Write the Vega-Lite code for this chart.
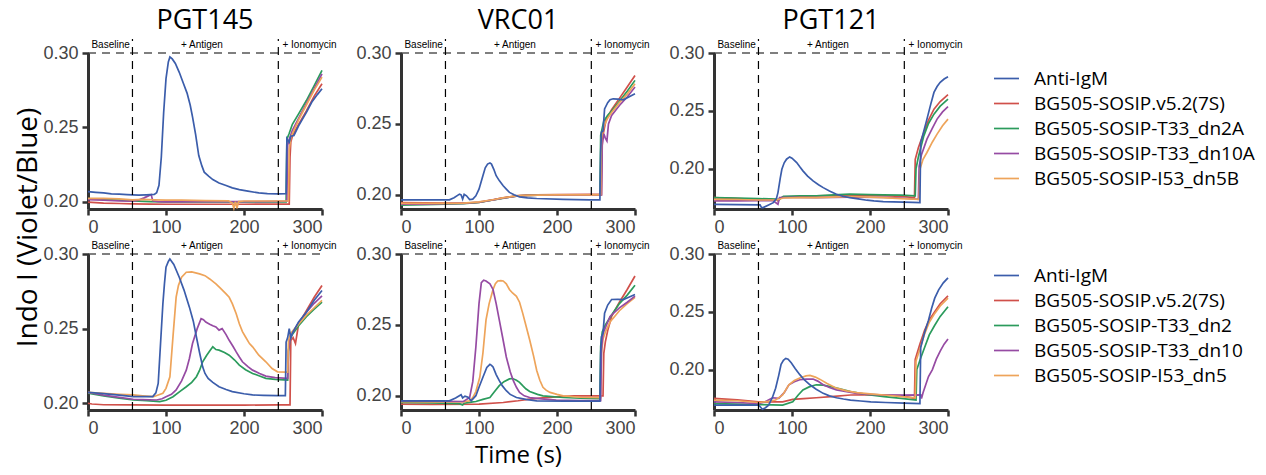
{
  "$schema": "https://vega.github.io/schema/vega-lite/v6.json",
  "background": "white",
  "padding": {"left": 14, "top": 7, "right": 5, "bottom": 0},
  "config": {
    "view": {"stroke": null},
    "axis": {"grid": false, "domainColor": "#333333", "domainWidth": 3, "tickColor": "#333333", "tickWidth": 2.5, "tickSize": 6, "labelFont": "Liberation Sans", "labelFontSize": 18, "labelColor": "#444444", "titleFont": "Open Sans", "titleFontWeight": "normal", "titleColor": "black", "titleFontSize": 28},
    "axisX": {"labelPadding": 3},
    "axisY": {"labelPadding": 4},
    "title": {"font": "Open Sans", "fontSize": 27, "fontWeight": "normal", "color": "black", "offset": 3},
    "line": {"strokeWidth": 1.7}
  },
  "datasets": {
    "names1": [
      {"s": "a", "series": "Anti-IgM"},
      {"s": "b", "series": "BG505-SOSIP.v5.2(7S)"},
      {"s": "c", "series": "BG505-SOSIP-T33_dn2A"},
      {"s": "d", "series": "BG505-SOSIP-T33_dn10A"},
      {"s": "e", "series": "BG505-SOSIP-I53_dn5B"}
    ],
    "names2": [
      {"s": "a", "series": "Anti-IgM"},
      {"s": "b", "series": "BG505-SOSIP.v5.2(7S)"},
      {"s": "c", "series": "BG505-SOSIP-T33_dn2"},
      {"s": "d", "series": "BG505-SOSIP-T33_dn10"},
      {"s": "e", "series": "BG505-SOSIP-I53_dn5"}
    ],
    "r1c1": [
      {"s":"b","t":0,"v":0.1996},{"s":"b","t":20,"v":0.1990},{"s":"b","t":40,"v":0.1987},{"s":"b","t":57,"v":0.1985},{"s":"b","t":80,"v":0.1983},{"s":"b","t":100,"v":0.1982},{"s":"b","t":150,"v":0.1982},{"s":"b","t":200,"v":0.1982},{"s":"b","t":243,"v":0.1983},{"s":"b","t":258,"v":0.1983},{"s":"b","t":259,"v":0.2300},{"s":"b","t":260,"v":0.2400},{"s":"b","t":262,"v":0.2440},{"s":"b","t":265,"v":0.2470},{"s":"b","t":270,"v":0.2520},{"s":"b","t":280,"v":0.2610},{"s":"b","t":290,"v":0.2710},{"s":"b","t":300,"v":0.2793},
      {"s":"c","t":0,"v":0.2018},{"s":"c","t":20,"v":0.2014},{"s":"c","t":40,"v":0.2010},{"s":"c","t":57,"v":0.2005},{"s":"c","t":80,"v":0.2000},{"s":"c","t":100,"v":0.1998},{"s":"c","t":150,"v":0.1997},{"s":"c","t":200,"v":0.1997},{"s":"c","t":243,"v":0.1998},{"s":"c","t":254,"v":0.1998},{"s":"c","t":255,"v":0.2420},{"s":"c","t":258,"v":0.2460},{"s":"c","t":262,"v":0.2520},{"s":"c","t":270,"v":0.2590},{"s":"c","t":280,"v":0.2680},{"s":"c","t":290,"v":0.2780},{"s":"c","t":300,"v":0.2883},
      {"s":"d","t":0,"v":0.2013},{"s":"d","t":20,"v":0.2010},{"s":"d","t":40,"v":0.2005},{"s":"d","t":57,"v":0.2003},{"s":"d","t":65,"v":0.2010},{"s":"d","t":72,"v":0.2025},{"s":"d","t":78,"v":0.2040},{"s":"d","t":81,"v":0.2047},{"s":"d","t":83,"v":0.2005},{"s":"d","t":90,"v":0.2000},{"s":"d","t":100,"v":0.1998},{"s":"d","t":150,"v":0.2000},{"s":"d","t":200,"v":0.2000},{"s":"d","t":243,"v":0.2001},{"s":"d","t":255,"v":0.2002},{"s":"d","t":256,"v":0.2380},{"s":"d","t":258,"v":0.2420},{"s":"d","t":262,"v":0.2480},{"s":"d","t":270,"v":0.2560},{"s":"d","t":280,"v":0.2660},{"s":"d","t":290,"v":0.2760},{"s":"d","t":300,"v":0.2860},
      {"s":"e","t":0,"v":0.2022},{"s":"e","t":20,"v":0.2022},{"s":"e","t":40,"v":0.2018},{"s":"e","t":57,"v":0.2012},{"s":"e","t":70,"v":0.2015},{"s":"e","t":85,"v":0.2012},{"s":"e","t":100,"v":0.2010},{"s":"e","t":120,"v":0.2010},{"s":"e","t":150,"v":0.2007},{"s":"e","t":180,"v":0.2005},{"s":"e","t":185,"v":0.1990},{"s":"e","t":187,"v":0.1955},{"s":"e","t":189,"v":0.2000},{"s":"e","t":191,"v":0.1955},{"s":"e","t":193,"v":0.2000},{"s":"e","t":200,"v":0.2004},{"s":"e","t":243,"v":0.2004},{"s":"e","t":257,"v":0.2005},{"s":"e","t":258,"v":0.2350},{"s":"e","t":260,"v":0.2430},{"s":"e","t":264,"v":0.2480},{"s":"e","t":270,"v":0.2550},{"s":"e","t":280,"v":0.2650},{"s":"e","t":290,"v":0.2750},{"s":"e","t":300,"v":0.2838},
      {"s":"a","t":0,"v":0.2067},{"s":"a","t":10,"v":0.2062},{"s":"a","t":20,"v":0.2058},{"s":"a","t":30,"v":0.2052},{"s":"a","t":40,"v":0.2050},{"s":"a","t":50,"v":0.2047},{"s":"a","t":57,"v":0.2045},{"s":"a","t":65,"v":0.2043},{"s":"a","t":75,"v":0.2045},{"s":"a","t":85,"v":0.2048},{"s":"a","t":88,"v":0.2060},{"s":"a","t":91,"v":0.2110},{"s":"a","t":94,"v":0.2300},{"s":"a","t":97,"v":0.2600},{"s":"a","t":100,"v":0.2827},{"s":"a","t":103,"v":0.2940},{"s":"a","t":105,"v":0.2973},{"s":"a","t":108,"v":0.2960},{"s":"a","t":112,"v":0.2930},{"s":"a","t":117,"v":0.2870},{"s":"a","t":122,"v":0.2800},{"s":"a","t":127,"v":0.2730},{"s":"a","t":131,"v":0.2650},{"s":"a","t":134,"v":0.2570},{"s":"a","t":138,"v":0.2450},{"s":"a","t":142,"v":0.2310},{"s":"a","t":146,"v":0.2240},{"s":"a","t":149,"v":0.2198},{"s":"a","t":155,"v":0.2170},{"s":"a","t":160,"v":0.2148},{"s":"a","t":168,"v":0.2125},{"s":"a","t":177,"v":0.2108},{"s":"a","t":185,"v":0.2092},{"s":"a","t":194,"v":0.2080},{"s":"a","t":205,"v":0.2070},{"s":"a","t":219,"v":0.2058},{"s":"a","t":230,"v":0.2054},{"s":"a","t":243,"v":0.2052},{"s":"a","t":254,"v":0.2053},{"s":"a","t":255,"v":0.2424},{"s":"a","t":258,"v":0.2400},{"s":"a","t":260,"v":0.2440},{"s":"a","t":264,"v":0.2445},{"s":"a","t":270,"v":0.2510},{"s":"a","t":280,"v":0.2600},{"s":"a","t":287,"v":0.2670},{"s":"a","t":294,"v":0.2720},{"s":"a","t":300,"v":0.2760}
    ],
    "r1c2": [
      {"s":"b","t":0,"v":0.1946},{"s":"b","t":30,"v":0.1943},{"s":"b","t":60,"v":0.1941},{"s":"b","t":80,"v":0.1942},{"s":"b","t":100,"v":0.1946},{"s":"b","t":122,"v":0.1970},{"s":"b","t":135,"v":0.1982},{"s":"b","t":148,"v":0.1993},{"s":"b","t":160,"v":0.1998},{"s":"b","t":174,"v":0.2000},{"s":"b","t":200,"v":0.2002},{"s":"b","t":242,"v":0.2003},{"s":"b","t":257,"v":0.2003},{"s":"b","t":258,"v":0.2394},{"s":"b","t":260,"v":0.2450},{"s":"b","t":263,"v":0.2530},{"s":"b","t":270,"v":0.2600},{"s":"b","t":280,"v":0.2680},{"s":"b","t":290,"v":0.2760},{"s":"b","t":300,"v":0.2842},
      {"s":"c","t":0,"v":0.1927},{"s":"c","t":30,"v":0.1930},{"s":"c","t":57,"v":0.1934},{"s":"c","t":80,"v":0.1938},{"s":"c","t":100,"v":0.1946},{"s":"c","t":120,"v":0.1965},{"s":"c","t":130,"v":0.1975},{"s":"c","t":150,"v":0.1993},{"s":"c","t":175,"v":0.1998},{"s":"c","t":200,"v":0.2000},{"s":"c","t":243,"v":0.2000},{"s":"c","t":255,"v":0.2000},{"s":"c","t":256,"v":0.2420},{"s":"c","t":260,"v":0.2520},{"s":"c","t":265,"v":0.2560},{"s":"c","t":270,"v":0.2590},{"s":"c","t":280,"v":0.2660},{"s":"c","t":290,"v":0.2730},{"s":"c","t":300,"v":0.2807},
      {"s":"d","t":0,"v":0.1934},{"s":"d","t":30,"v":0.1935},{"s":"d","t":57,"v":0.1937},{"s":"d","t":80,"v":0.1940},{"s":"d","t":100,"v":0.1948},{"s":"d","t":120,"v":0.1966},{"s":"d","t":130,"v":0.1977},{"s":"d","t":150,"v":0.1992},{"s":"d","t":175,"v":0.1997},{"s":"d","t":200,"v":0.1998},{"s":"d","t":243,"v":0.1998},{"s":"d","t":257,"v":0.1998},{"s":"d","t":258,"v":0.2350},{"s":"d","t":260,"v":0.2430},{"s":"d","t":262,"v":0.2400},{"s":"d","t":264,"v":0.2380},{"s":"d","t":266,"v":0.2500},{"s":"d","t":270,"v":0.2560},{"s":"d","t":280,"v":0.2630},{"s":"d","t":290,"v":0.2690},{"s":"d","t":300,"v":0.2760},
      {"s":"e","t":0,"v":0.1940},{"s":"e","t":30,"v":0.1940},{"s":"e","t":57,"v":0.1940},{"s":"e","t":80,"v":0.1942},{"s":"e","t":100,"v":0.1950},{"s":"e","t":120,"v":0.1967},{"s":"e","t":130,"v":0.1978},{"s":"e","t":150,"v":0.1994},{"s":"e","t":175,"v":0.1998},{"s":"e","t":200,"v":0.1999},{"s":"e","t":243,"v":0.2000},{"s":"e","t":256,"v":0.2000},{"s":"e","t":257,"v":0.2400},{"s":"e","t":260,"v":0.2480},{"s":"e","t":265,"v":0.2540},{"s":"e","t":270,"v":0.2580},{"s":"e","t":280,"v":0.2650},{"s":"e","t":290,"v":0.2710},{"s":"e","t":300,"v":0.2783},
      {"s":"a","t":0,"v":0.1965},{"s":"a","t":30,"v":0.1965},{"s":"a","t":62,"v":0.1965},{"s":"a","t":68,"v":0.1980},{"s":"a","t":75,"v":0.2005},{"s":"a","t":77,"v":0.2000},{"s":"a","t":79,"v":0.1970},{"s":"a","t":81,"v":0.2003},{"s":"a","t":84,"v":0.1993},{"s":"a","t":88,"v":0.1967},{"s":"a","t":92,"v":0.1970},{"s":"a","t":96,"v":0.1993},{"s":"a","t":100,"v":0.2040},{"s":"a","t":105,"v":0.2135},{"s":"a","t":108,"v":0.2190},{"s":"a","t":111,"v":0.2217},{"s":"a","t":114,"v":0.2225},{"s":"a","t":116,"v":0.2217},{"s":"a","t":119,"v":0.2180},{"s":"a","t":122,"v":0.2135},{"s":"a","t":126,"v":0.2100},{"s":"a","t":131,"v":0.2064},{"s":"a","t":135,"v":0.2040},{"s":"a","t":139,"v":0.2017},{"s":"a","t":145,"v":0.2000},{"s":"a","t":152,"v":0.1986},{"s":"a","t":162,"v":0.1978},{"s":"a","t":174,"v":0.1974},{"s":"a","t":208,"v":0.1968},{"s":"a","t":242,"v":0.1965},{"s":"a","t":255,"v":0.1965},{"s":"a","t":256,"v":0.2300},{"s":"a","t":257,"v":0.2441},{"s":"a","t":259,"v":0.2450},{"s":"a","t":261,"v":0.2606},{"s":"a","t":265,"v":0.2650},{"s":"a","t":268,"v":0.2670},{"s":"a","t":272,"v":0.2677},{"s":"a","t":278,"v":0.2675},{"s":"a","t":285,"v":0.2670},{"s":"a","t":292,"v":0.2690},{"s":"a","t":300,"v":0.2712}
    ],
    "r1c3": [
      {"s":"b","t":0,"v":0.1749},{"s":"b","t":30,"v":0.1740},{"s":"b","t":57,"v":0.1734},{"s":"b","t":70,"v":0.1733},{"s":"b","t":80,"v":0.1730},{"s":"b","t":82,"v":0.1720},{"s":"b","t":85,"v":0.1745},{"s":"b","t":89,"v":0.1754},{"s":"b","t":110,"v":0.1758},{"s":"b","t":131,"v":0.1763},{"s":"b","t":150,"v":0.1766},{"s":"b","t":174,"v":0.1769},{"s":"b","t":200,"v":0.1768},{"s":"b","t":217,"v":0.1765},{"s":"b","t":240,"v":0.1760},{"s":"b","t":257,"v":0.1749},{"s":"b","t":258,"v":0.2080},{"s":"b","t":262,"v":0.2180},{"s":"b","t":269,"v":0.2312},{"s":"b","t":275,"v":0.2420},{"s":"b","t":282,"v":0.2514},{"s":"b","t":290,"v":0.2580},{"s":"b","t":300,"v":0.2639},
      {"s":"c","t":0,"v":0.1749},{"s":"c","t":30,"v":0.1745},{"s":"c","t":57,"v":0.1740},{"s":"c","t":80,"v":0.1735},{"s":"c","t":83,"v":0.1730},{"s":"c","t":89,"v":0.1760},{"s":"c","t":110,"v":0.1763},{"s":"c","t":131,"v":0.1763},{"s":"c","t":160,"v":0.1775},{"s":"c","t":174,"v":0.1778},{"s":"c","t":200,"v":0.1775},{"s":"c","t":217,"v":0.1772},{"s":"c","t":240,"v":0.1770},{"s":"c","t":258,"v":0.1763},{"s":"c","t":259,"v":0.2000},{"s":"c","t":262,"v":0.2100},{"s":"c","t":269,"v":0.2283},{"s":"c","t":275,"v":0.2390},{"s":"c","t":282,"v":0.2471},{"s":"c","t":290,"v":0.2540},{"s":"c","t":300,"v":0.2601},
      {"s":"d","t":0,"v":0.1720},{"s":"d","t":30,"v":0.1720},{"s":"d","t":57,"v":0.1722},{"s":"d","t":75,"v":0.1725},{"s":"d","t":82,"v":0.1691},{"s":"d","t":84,"v":0.1749},{"s":"d","t":100,"v":0.1750},{"s":"d","t":131,"v":0.1749},{"s":"d","t":174,"v":0.1752},{"s":"d","t":217,"v":0.1750},{"s":"d","t":240,"v":0.1745},{"s":"d","t":262,"v":0.1734},{"s":"d","t":263,"v":0.2020},{"s":"d","t":266,"v":0.2120},{"s":"d","t":273,"v":0.2254},{"s":"d","t":280,"v":0.2350},{"s":"d","t":286,"v":0.2428},{"s":"d","t":293,"v":0.2490},{"s":"d","t":300,"v":0.2535},
      {"s":"e","t":0,"v":0.1734},{"s":"e","t":30,"v":0.1732},{"s":"e","t":57,"v":0.1728},{"s":"e","t":80,"v":0.1728},{"s":"e","t":89,"v":0.1745},{"s":"e","t":110,"v":0.1748},{"s":"e","t":131,"v":0.1749},{"s":"e","t":160,"v":0.1755},{"s":"e","t":174,"v":0.1758},{"s":"e","t":200,"v":0.1752},{"s":"e","t":217,"v":0.1749},{"s":"e","t":240,"v":0.1740},{"s":"e","t":263,"v":0.1734},{"s":"e","t":264,"v":0.1994},{"s":"e","t":268,"v":0.2080},{"s":"e","t":273,"v":0.2139},{"s":"e","t":280,"v":0.2230},{"s":"e","t":286,"v":0.2298},{"s":"e","t":293,"v":0.2370},{"s":"e","t":300,"v":0.2428},
      {"s":"a","t":0,"v":0.1690},{"s":"a","t":30,"v":0.1688},{"s":"a","t":59,"v":0.1686},{"s":"a","t":61,"v":0.1662},{"s":"a","t":63,"v":0.1662},{"s":"a","t":70,"v":0.1685},{"s":"a","t":76,"v":0.1705},{"s":"a","t":80,"v":0.1740},{"s":"a","t":82,"v":0.1792},{"s":"a","t":85,"v":0.1920},{"s":"a","t":87,"v":0.1994},{"s":"a","t":90,"v":0.2050},{"s":"a","t":93,"v":0.2081},{"s":"a","t":97,"v":0.2101},{"s":"a","t":100,"v":0.2090},{"s":"a","t":106,"v":0.2052},{"s":"a","t":110,"v":0.2015},{"s":"a","t":114,"v":0.1980},{"s":"a","t":120,"v":0.1935},{"s":"a","t":127,"v":0.1893},{"s":"a","t":134,"v":0.1860},{"s":"a","t":140,"v":0.1835},{"s":"a","t":148,"v":0.1805},{"s":"a","t":157,"v":0.1778},{"s":"a","t":165,"v":0.1760},{"s":"a","t":174,"v":0.1749},{"s":"a","t":185,"v":0.1737},{"s":"a","t":196,"v":0.1726},{"s":"a","t":205,"v":0.1720},{"s":"a","t":217,"v":0.1714},{"s":"a","t":230,"v":0.1712},{"s":"a","t":243,"v":0.1710},{"s":"a","t":255,"v":0.1707},{"s":"a","t":264,"v":0.1705},{"s":"a","t":265,"v":0.2226},{"s":"a","t":268,"v":0.2300},{"s":"a","t":273,"v":0.2428},{"s":"a","t":278,"v":0.2560},{"s":"a","t":282,"v":0.2659},{"s":"a","t":286,"v":0.2710},{"s":"a","t":290,"v":0.2746},{"s":"a","t":295,"v":0.2775},{"s":"a","t":300,"v":0.2795}
    ],
    "r2c1": [
      {"s":"b","t":0,"v":0.2000},{"s":"b","t":5,"v":0.1995},{"s":"b","t":20,"v":0.1990},{"s":"b","t":57,"v":0.1989},{"s":"b","t":100,"v":0.1988},{"s":"b","t":150,"v":0.1988},{"s":"b","t":200,"v":0.1988},{"s":"b","t":243,"v":0.1989},{"s":"b","t":259,"v":0.1989},{"s":"b","t":260,"v":0.2420},{"s":"b","t":263,"v":0.2440},{"s":"b","t":266,"v":0.2400},{"s":"b","t":270,"v":0.2530},{"s":"b","t":280,"v":0.2620},{"s":"b","t":290,"v":0.2710},{"s":"b","t":300,"v":0.2789},
      {"s":"c","t":0,"v":0.2067},{"s":"c","t":20,"v":0.2050},{"s":"c","t":40,"v":0.2035},{"s":"c","t":58,"v":0.2022},{"s":"c","t":75,"v":0.2018},{"s":"c","t":92,"v":0.2011},{"s":"c","t":100,"v":0.2020},{"s":"c","t":109,"v":0.2044},{"s":"c","t":118,"v":0.2080},{"s":"c","t":126,"v":0.2111},{"s":"c","t":133,"v":0.2140},{"s":"c","t":139,"v":0.2178},{"s":"c","t":143,"v":0.2220},{"s":"c","t":147,"v":0.2278},{"s":"c","t":152,"v":0.2320},{"s":"c","t":156,"v":0.2350},{"s":"c","t":160,"v":0.2378},{"s":"c","t":164,"v":0.2360},{"s":"c","t":168,"v":0.2356},{"s":"c","t":175,"v":0.2340},{"s":"c","t":181,"v":0.2322},{"s":"c","t":188,"v":0.2290},{"s":"c","t":194,"v":0.2256},{"s":"c","t":202,"v":0.2225},{"s":"c","t":211,"v":0.2200},{"s":"c","t":220,"v":0.2183},{"s":"c","t":228,"v":0.2167},{"s":"c","t":240,"v":0.2160},{"s":"c","t":256,"v":0.2156},{"s":"c","t":257,"v":0.2350},{"s":"c","t":259,"v":0.2430},{"s":"c","t":262,"v":0.2460},{"s":"c","t":270,"v":0.2520},{"s":"c","t":280,"v":0.2580},{"s":"c","t":290,"v":0.2630},{"s":"c","t":300,"v":0.2678},
      {"s":"d","t":0,"v":0.2073},{"s":"d","t":20,"v":0.2055},{"s":"d","t":40,"v":0.2040},{"s":"d","t":58,"v":0.2027},{"s":"d","t":70,"v":0.2025},{"s":"d","t":88,"v":0.2022},{"s":"d","t":95,"v":0.2030},{"s":"d","t":100,"v":0.2044},{"s":"d","t":107,"v":0.2060},{"s":"d","t":113,"v":0.2089},{"s":"d","t":120,"v":0.2150},{"s":"d","t":126,"v":0.2222},{"s":"d","t":130,"v":0.2300},{"s":"d","t":134,"v":0.2400},{"s":"d","t":140,"v":0.2500},{"s":"d","t":145,"v":0.2567},{"s":"d","t":148,"v":0.2560},{"s":"d","t":151,"v":0.2544},{"s":"d","t":156,"v":0.2530},{"s":"d","t":160,"v":0.2520},{"s":"d","t":164,"v":0.2511},{"s":"d","t":168,"v":0.2490},{"s":"d","t":172,"v":0.2500},{"s":"d","t":177,"v":0.2460},{"s":"d","t":181,"v":0.2422},{"s":"d","t":186,"v":0.2380},{"s":"d","t":190,"v":0.2344},{"s":"d","t":194,"v":0.2310},{"s":"d","t":198,"v":0.2278},{"s":"d","t":205,"v":0.2245},{"s":"d","t":211,"v":0.2222},{"s":"d","t":220,"v":0.2200},{"s":"d","t":228,"v":0.2182},{"s":"d","t":240,"v":0.2172},{"s":"d","t":256,"v":0.2167},{"s":"d","t":257,"v":0.2350},{"s":"d","t":259,"v":0.2430},{"s":"d","t":262,"v":0.2470},{"s":"d","t":270,"v":0.2540},{"s":"d","t":280,"v":0.2610},{"s":"d","t":290,"v":0.2670},{"s":"d","t":300,"v":0.2720},
      {"s":"e","t":0,"v":0.2073},{"s":"e","t":20,"v":0.2066},{"s":"e","t":40,"v":0.2060},{"s":"e","t":58,"v":0.2056},{"s":"e","t":70,"v":0.2050},{"s":"e","t":84,"v":0.2044},{"s":"e","t":96,"v":0.2067},{"s":"e","t":100,"v":0.2100},{"s":"e","t":105,"v":0.2178},{"s":"e","t":109,"v":0.2450},{"s":"e","t":113,"v":0.2711},{"s":"e","t":116,"v":0.2790},{"s":"e","t":120,"v":0.2844},{"s":"e","t":126,"v":0.2878},{"s":"e","t":133,"v":0.2880},{"s":"e","t":143,"v":0.2867},{"s":"e","t":150,"v":0.2855},{"s":"e","t":156,"v":0.2833},{"s":"e","t":164,"v":0.2800},{"s":"e","t":170,"v":0.2770},{"s":"e","t":177,"v":0.2733},{"s":"e","t":181,"v":0.2710},{"s":"e","t":185,"v":0.2667},{"s":"e","t":190,"v":0.2600},{"s":"e","t":194,"v":0.2533},{"s":"e","t":198,"v":0.2480},{"s":"e","t":202,"v":0.2444},{"s":"e","t":207,"v":0.2400},{"s":"e","t":211,"v":0.2378},{"s":"e","t":219,"v":0.2322},{"s":"e","t":228,"v":0.2278},{"s":"e","t":236,"v":0.2233},{"s":"e","t":243,"v":0.2211},{"s":"e","t":256,"v":0.2209},{"s":"e","t":257,"v":0.2420},{"s":"e","t":260,"v":0.2470},{"s":"e","t":270,"v":0.2530},{"s":"e","t":280,"v":0.2590},{"s":"e","t":290,"v":0.2640},{"s":"e","t":300,"v":0.2690},
      {"s":"a","t":0,"v":0.2073},{"s":"a","t":20,"v":0.2065},{"s":"a","t":40,"v":0.2055},{"s":"a","t":58,"v":0.2044},{"s":"a","t":70,"v":0.2044},{"s":"a","t":83,"v":0.2045},{"s":"a","t":87,"v":0.2070},{"s":"a","t":90,"v":0.2133},{"s":"a","t":93,"v":0.2400},{"s":"a","t":96,"v":0.2667},{"s":"a","t":98,"v":0.2800},{"s":"a","t":100,"v":0.2911},{"s":"a","t":103,"v":0.2950},{"s":"a","t":105,"v":0.2967},{"s":"a","t":110,"v":0.2930},{"s":"a","t":117,"v":0.2844},{"s":"a","t":123,"v":0.2760},{"s":"a","t":130,"v":0.2644},{"s":"a","t":135,"v":0.2550},{"s":"a","t":139,"v":0.2444},{"s":"a","t":143,"v":0.2340},{"s":"a","t":147,"v":0.2244},{"s":"a","t":150,"v":0.2200},{"s":"a","t":154,"v":0.2167},{"s":"a","t":160,"v":0.2140},{"s":"a","t":168,"v":0.2111},{"s":"a","t":177,"v":0.2092},{"s":"a","t":185,"v":0.2078},{"s":"a","t":200,"v":0.2064},{"s":"a","t":211,"v":0.2056},{"s":"a","t":225,"v":0.2053},{"s":"a","t":243,"v":0.2051},{"s":"a","t":253,"v":0.2051},{"s":"a","t":254,"v":0.2410},{"s":"a","t":256,"v":0.2440},{"s":"a","t":258,"v":0.2500},{"s":"a","t":260,"v":0.2440},{"s":"a","t":262,"v":0.2470},{"s":"a","t":270,"v":0.2544},{"s":"a","t":280,"v":0.2610},{"s":"a","t":290,"v":0.2690},{"s":"a","t":300,"v":0.2756}
    ],
    "r2c2": [
      {"s":"b","t":0,"v":0.1941},{"s":"b","t":40,"v":0.1940},{"s":"b","t":100,"v":0.1941},{"s":"b","t":131,"v":0.1953},{"s":"b","t":150,"v":0.1965},{"s":"b","t":165,"v":0.1977},{"s":"b","t":185,"v":0.1987},{"s":"b","t":199,"v":0.1993},{"s":"b","t":221,"v":0.2000},{"s":"b","t":259,"v":0.2000},{"s":"b","t":260,"v":0.2300},{"s":"b","t":262,"v":0.2380},{"s":"b","t":265,"v":0.2460},{"s":"b","t":270,"v":0.2560},{"s":"b","t":280,"v":0.2660},{"s":"b","t":290,"v":0.2750},{"s":"b","t":300,"v":0.2845},
      {"s":"c","t":0,"v":0.1953},{"s":"c","t":40,"v":0.1950},{"s":"c","t":75,"v":0.1945},{"s":"c","t":79,"v":0.1935},{"s":"c","t":81,"v":0.1948},{"s":"c","t":90,"v":0.1955},{"s":"c","t":96,"v":0.1960},{"s":"c","t":105,"v":0.1975},{"s":"c","t":114,"v":0.1988},{"s":"c","t":120,"v":0.2030},{"s":"c","t":126,"v":0.2072},{"s":"c","t":132,"v":0.2100},{"s":"c","t":139,"v":0.2119},{"s":"c","t":143,"v":0.2122},{"s":"c","t":148,"v":0.2110},{"s":"c","t":152,"v":0.2095},{"s":"c","t":156,"v":0.2072},{"s":"c","t":160,"v":0.2050},{"s":"c","t":165,"v":0.2031},{"s":"c","t":175,"v":0.2010},{"s":"c","t":182,"v":0.2000},{"s":"c","t":208,"v":0.1988},{"s":"c","t":230,"v":0.1983},{"s":"c","t":255,"v":0.1981},{"s":"c","t":256,"v":0.2350},{"s":"c","t":258,"v":0.2450},{"s":"c","t":262,"v":0.2500},{"s":"c","t":270,"v":0.2570},{"s":"c","t":280,"v":0.2650},{"s":"c","t":290,"v":0.2710},{"s":"c","t":300,"v":0.2779},
      {"s":"e","t":0,"v":0.1958},{"s":"e","t":40,"v":0.1957},{"s":"e","t":80,"v":0.1957},{"s":"e","t":88,"v":0.1965},{"s":"e","t":92,"v":0.1988},{"s":"e","t":96,"v":0.2030},{"s":"e","t":101,"v":0.2131},{"s":"e","t":105,"v":0.2300},{"s":"e","t":109,"v":0.2536},{"s":"e","t":113,"v":0.2650},{"s":"e","t":118,"v":0.2750},{"s":"e","t":121,"v":0.2790},{"s":"e","t":124,"v":0.2810},{"s":"e","t":128,"v":0.2812},{"s":"e","t":131,"v":0.2810},{"s":"e","t":135,"v":0.2790},{"s":"e","t":139,"v":0.2750},{"s":"e","t":143,"v":0.2725},{"s":"e","t":148,"v":0.2702},{"s":"e","t":152,"v":0.2660},{"s":"e","t":156,"v":0.2583},{"s":"e","t":160,"v":0.2500},{"s":"e","t":165,"v":0.2393},{"s":"e","t":170,"v":0.2280},{"s":"e","t":174,"v":0.2179},{"s":"e","t":178,"v":0.2110},{"s":"e","t":182,"v":0.2060},{"s":"e","t":186,"v":0.2040},{"s":"e","t":191,"v":0.2024},{"s":"e","t":200,"v":0.2010},{"s":"e","t":208,"v":0.2000},{"s":"e","t":230,"v":0.1990},{"s":"e","t":256,"v":0.1988},{"s":"e","t":257,"v":0.2300},{"s":"e","t":259,"v":0.2400},{"s":"e","t":262,"v":0.2450},{"s":"e","t":268,"v":0.2520},{"s":"e","t":280,"v":0.2600},{"s":"e","t":290,"v":0.2650},{"s":"e","t":300,"v":0.2695},
      {"s":"d","t":0,"v":0.1965},{"s":"d","t":40,"v":0.1962},{"s":"d","t":80,"v":0.1960},{"s":"d","t":88,"v":0.1988},{"s":"d","t":92,"v":0.2100},{"s":"d","t":96,"v":0.2346},{"s":"d","t":100,"v":0.2650},{"s":"d","t":103,"v":0.2798},{"s":"d","t":106,"v":0.2815},{"s":"d","t":109,"v":0.2810},{"s":"d","t":114,"v":0.2790},{"s":"d","t":118,"v":0.2750},{"s":"d","t":122,"v":0.2650},{"s":"d","t":126,"v":0.2536},{"s":"d","t":130,"v":0.2420},{"s":"d","t":135,"v":0.2274},{"s":"d","t":140,"v":0.2170},{"s":"d","t":144,"v":0.2107},{"s":"d","t":148,"v":0.2060},{"s":"d","t":152,"v":0.2024},{"s":"d","t":158,"v":0.2000},{"s":"d","t":165,"v":0.1988},{"s":"d","t":180,"v":0.1978},{"s":"d","t":199,"v":0.1969},{"s":"d","t":230,"v":0.1966},{"s":"d","t":256,"v":0.1966},{"s":"d","t":257,"v":0.2330},{"s":"d","t":259,"v":0.2440},{"s":"d","t":262,"v":0.2480},{"s":"d","t":268,"v":0.2560},{"s":"d","t":280,"v":0.2620},{"s":"d","t":290,"v":0.2660},{"s":"d","t":300,"v":0.2703},
      {"s":"a","t":0,"v":0.1965},{"s":"a","t":30,"v":0.1965},{"s":"a","t":62,"v":0.1965},{"s":"a","t":70,"v":0.1985},{"s":"a","t":77,"v":0.2008},{"s":"a","t":79,"v":0.1985},{"s":"a","t":82,"v":0.1998},{"s":"a","t":86,"v":0.1990},{"s":"a","t":90,"v":0.1965},{"s":"a","t":96,"v":0.2001},{"s":"a","t":100,"v":0.2060},{"s":"a","t":105,"v":0.2131},{"s":"a","t":110,"v":0.2200},{"s":"a","t":114,"v":0.2222},{"s":"a","t":116,"v":0.2215},{"s":"a","t":118,"v":0.2203},{"s":"a","t":122,"v":0.2150},{"s":"a","t":126,"v":0.2107},{"s":"a","t":130,"v":0.2070},{"s":"a","t":135,"v":0.2036},{"s":"a","t":140,"v":0.2010},{"s":"a","t":148,"v":0.1988},{"s":"a","t":160,"v":0.1975},{"s":"a","t":174,"v":0.1965},{"s":"a","t":210,"v":0.1963},{"s":"a","t":255,"v":0.1963},{"s":"a","t":256,"v":0.2300},{"s":"a","t":257,"v":0.2417},{"s":"a","t":259,"v":0.2440},{"s":"a","t":261,"v":0.2583},{"s":"a","t":265,"v":0.2640},{"s":"a","t":270,"v":0.2679},{"s":"a","t":278,"v":0.2680},{"s":"a","t":285,"v":0.2679},{"s":"a","t":292,"v":0.2695},{"s":"a","t":300,"v":0.2714}
    ],
    "r2c3": [
      {"s":"b","t":0,"v":0.1750},{"s":"b","t":30,"v":0.1738},{"s":"b","t":57,"v":0.1721},{"s":"b","t":88,"v":0.1721},{"s":"b","t":101,"v":0.1742},{"s":"b","t":115,"v":0.1748},{"s":"b","t":131,"v":0.1756},{"s":"b","t":150,"v":0.1765},{"s":"b","t":175,"v":0.1780},{"s":"b","t":200,"v":0.1782},{"s":"b","t":218,"v":0.1780},{"s":"b","t":240,"v":0.1775},{"s":"b","t":257,"v":0.1750},{"s":"b","t":258,"v":0.2089},{"s":"b","t":264,"v":0.2220},{"s":"b","t":270,"v":0.2339},{"s":"b","t":276,"v":0.2430},{"s":"b","t":283,"v":0.2500},{"s":"b","t":290,"v":0.2570},{"s":"b","t":300,"v":0.2638},
      {"s":"c","t":0,"v":0.1706},{"s":"c","t":30,"v":0.1700},{"s":"c","t":57,"v":0.1697},{"s":"c","t":88,"v":0.1692},{"s":"c","t":101,"v":0.1721},{"s":"c","t":108,"v":0.1780},{"s":"c","t":114,"v":0.1824},{"s":"c","t":122,"v":0.1850},{"s":"c","t":131,"v":0.1868},{"s":"c","t":140,"v":0.1865},{"s":"c","t":149,"v":0.1853},{"s":"c","t":160,"v":0.1835},{"s":"c","t":175,"v":0.1809},{"s":"c","t":195,"v":0.1785},{"s":"c","t":218,"v":0.1765},{"s":"c","t":240,"v":0.1750},{"s":"c","t":259,"v":0.1736},{"s":"c","t":260,"v":0.2000},{"s":"c","t":265,"v":0.2100},{"s":"c","t":270,"v":0.2191},{"s":"c","t":276,"v":0.2300},{"s":"c","t":283,"v":0.2383},{"s":"c","t":290,"v":0.2460},{"s":"c","t":300,"v":0.2544},
      {"s":"d","t":0,"v":0.1721},{"s":"d","t":30,"v":0.1715},{"s":"d","t":57,"v":0.1706},{"s":"d","t":65,"v":0.1720},{"s":"d","t":75,"v":0.1756},{"s":"d","t":83,"v":0.1750},{"s":"d","t":90,"v":0.1800},{"s":"d","t":96,"v":0.1868},{"s":"d","t":103,"v":0.1895},{"s":"d","t":110,"v":0.1912},{"s":"d","t":118,"v":0.1918},{"s":"d","t":127,"v":0.1918},{"s":"d","t":133,"v":0.1900},{"s":"d","t":140,"v":0.1868},{"s":"d","t":148,"v":0.1845},{"s":"d","t":157,"v":0.1824},{"s":"d","t":170,"v":0.1808},{"s":"d","t":183,"v":0.1794},{"s":"d","t":200,"v":0.1786},{"s":"d","t":218,"v":0.1780},{"s":"d","t":240,"v":0.1778},{"s":"d","t":265,"v":0.1780},{"s":"d","t":266,"v":0.1750},{"s":"d","t":268,"v":0.1800},{"s":"d","t":275,"v":0.1940},{"s":"d","t":280,"v":0.2000},{"s":"d","t":285,"v":0.2090},{"s":"d","t":290,"v":0.2160},{"s":"d","t":295,"v":0.2220},{"s":"d","t":300,"v":0.2265},
      {"s":"e","t":0,"v":0.1736},{"s":"e","t":30,"v":0.1730},{"s":"e","t":57,"v":0.1715},{"s":"e","t":70,"v":0.1725},{"s":"e","t":79,"v":0.1736},{"s":"e","t":88,"v":0.1780},{"s":"e","t":96,"v":0.1868},{"s":"e","t":103,"v":0.1905},{"s":"e","t":110,"v":0.1927},{"s":"e","t":118,"v":0.1945},{"s":"e","t":123,"v":0.1950},{"s":"e","t":130,"v":0.1935},{"s":"e","t":136,"v":0.1915},{"s":"e","t":145,"v":0.1880},{"s":"e","t":157,"v":0.1839},{"s":"e","t":170,"v":0.1815},{"s":"e","t":183,"v":0.1800},{"s":"e","t":200,"v":0.1790},{"s":"e","t":218,"v":0.1780},{"s":"e","t":240,"v":0.1765},{"s":"e","t":258,"v":0.1756},{"s":"e","t":259,"v":0.2074},{"s":"e","t":265,"v":0.2200},{"s":"e","t":270,"v":0.2309},{"s":"e","t":276,"v":0.2410},{"s":"e","t":283,"v":0.2486},{"s":"e","t":290,"v":0.2550},{"s":"e","t":300,"v":0.2618},
      {"s":"a","t":0,"v":0.1692},{"s":"a","t":30,"v":0.1692},{"s":"a","t":57,"v":0.1692},{"s":"a","t":59,"v":0.1680},{"s":"a","t":62,"v":0.1656},{"s":"a","t":66,"v":0.1670},{"s":"a","t":70,"v":0.1692},{"s":"a","t":75,"v":0.1760},{"s":"a","t":79,"v":0.1839},{"s":"a","t":83,"v":0.1950},{"s":"a","t":86,"v":0.2045},{"s":"a","t":89,"v":0.2080},{"s":"a","t":92,"v":0.2097},{"s":"a","t":95,"v":0.2090},{"s":"a","t":99,"v":0.2059},{"s":"a","t":104,"v":0.2010},{"s":"a","t":110,"v":0.1956},{"s":"a","t":116,"v":0.1910},{"s":"a","t":123,"v":0.1868},{"s":"a","t":131,"v":0.1830},{"s":"a","t":140,"v":0.1794},{"s":"a","t":148,"v":0.1772},{"s":"a","t":157,"v":0.1756},{"s":"a","t":166,"v":0.1745},{"s":"a","t":175,"v":0.1736},{"s":"a","t":188,"v":0.1728},{"s":"a","t":201,"v":0.1721},{"s":"a","t":220,"v":0.1715},{"s":"a","t":244,"v":0.1710},{"s":"a","t":264,"v":0.1706},{"s":"a","t":265,"v":0.2191},{"s":"a","t":270,"v":0.2320},{"s":"a","t":275,"v":0.2427},{"s":"a","t":279,"v":0.2530},{"s":"a","t":283,"v":0.2618},{"s":"a","t":288,"v":0.2690},{"s":"a","t":294,"v":0.2750},{"s":"a","t":300,"v":0.2794}
    ],
    "phases": [{"t": 57}, {"t": 244}],
    "labels": [{"label": "Baseline", "t": 29}, {"label": "+ Antigen", "t": 146}, {"label": "+ Ionomycin", "t": 284}],
    "one": [{"x0": 0, "x1": 300}]
  },
  "columns": 3,
  "bounds": "flush",
  "spacing": {"row": 45, "column": 79},
  "resolve": {"scale": {"color": "independent", "x": "independent", "y": "independent"}, "legend": {"color": "independent"}},
  "concat": [
    {
      "width": 234, "height": 156,
      "title": {"text": "PGT145"},
      "layer": [
        {"data": {"name": "r1c1"}, "transform": [{"lookup": "s", "from": {"data": {"name": "names1"}, "key": "s", "fields": ["series"]}}],
         "mark": {"type": "line"},
         "encoding": {
           "x": {"field": "t", "type": "quantitative", "scale": {"domain": [0, 300], "nice": false}, "axis": {"values": [0, 100, 200, 300], "title": null}},
           "y": {"field": "v", "type": "quantitative", "scale": {"domain": [0.195, 0.30], "nice": false, "zero": false}, "axis": {"values": [0.2, 0.25, 0.3], "format": ".2f", "title": null}},
           "color": {"field": "series", "type": "nominal", "scale": {"domain": ["Anti-IgM", "BG505-SOSIP.v5.2(7S)", "BG505-SOSIP-T33_dn2A", "BG505-SOSIP-T33_dn10A", "BG505-SOSIP-I53_dn5B"], "range": ["#3b5dab", "#d0504a", "#2b9b5c", "#964ba3", "#eea45a"]}, "legend": null}
         }},
        {"data": {"name": "phases"}, "mark": {"type": "rule", "color": "black", "strokeWidth": 1.2, "strokeDash": [8, 6]},
         "encoding": {"x": {"field": "t", "type": "quantitative"}, "y": {"datum": 0.195}, "y2": {"datum": 0.3094}}},
        {"data": {"name": "one"}, "mark": {"type": "rule", "color": "black", "strokeWidth": 1.2, "strokeDash": [8, 6]},
         "encoding": {"x": {"field": "x0", "type": "quantitative"}, "x2": {"field": "x1"}, "y": {"datum": 0.30}}},
        {"data": {"name": "labels"}, "mark": {"type": "text", "font": "Liberation Sans Narrow, Liberation Sans", "fontSize": 10, "color": "black", "baseline": "middle", "dy": -8},
         "encoding": {"x": {"field": "t", "type": "quantitative"}, "y": {"datum": 0.30}, "text": {"field": "label"}}}
      ]
    },
    {
      "width": 234, "height": 156,
      "title": {"text": "VRC01"},
      "layer": [
        {"data": {"name": "r1c2"}, "transform": [{"lookup": "s", "from": {"data": {"name": "names1"}, "key": "s", "fields": ["series"]}}],
         "mark": {"type": "line"},
         "encoding": {
           "x": {"field": "t", "type": "quantitative", "scale": {"domain": [0, 300], "nice": false}, "axis": {"values": [0, 100, 200, 300], "title": null}},
           "y": {"field": "v", "type": "quantitative", "scale": {"domain": [0.19, 0.30], "nice": false, "zero": false}, "axis": {"values": [0.2, 0.25, 0.3], "format": ".2f", "title": null}},
           "color": {"field": "series", "type": "nominal", "scale": {"domain": ["Anti-IgM", "BG505-SOSIP.v5.2(7S)", "BG505-SOSIP-T33_dn2A", "BG505-SOSIP-T33_dn10A", "BG505-SOSIP-I53_dn5B"], "range": ["#3b5dab", "#d0504a", "#2b9b5c", "#964ba3", "#eea45a"]}, "legend": null}
         }},
        {"data": {"name": "phases"}, "mark": {"type": "rule", "color": "black", "strokeWidth": 1.2, "strokeDash": [8, 6]},
         "encoding": {"x": {"field": "t", "type": "quantitative"}, "y": {"datum": 0.19}, "y2": {"datum": 0.3099}}},
        {"data": {"name": "one"}, "mark": {"type": "rule", "color": "black", "strokeWidth": 1.2, "strokeDash": [8, 6]},
         "encoding": {"x": {"field": "x0", "type": "quantitative"}, "x2": {"field": "x1"}, "y": {"datum": 0.30}}},
        {"data": {"name": "labels"}, "mark": {"type": "text", "font": "Liberation Sans Narrow, Liberation Sans", "fontSize": 10, "color": "black", "baseline": "middle", "dy": -8},
         "encoding": {"x": {"field": "t", "type": "quantitative"}, "y": {"datum": 0.30}, "text": {"field": "label"}}}
      ]
    },
    {
      "width": 234, "height": 156,
      "title": {"text": "PGT121"},
      "layer": [
        {"data": {"name": "r1c3"}, "transform": [{"lookup": "s", "from": {"data": {"name": "names1"}, "key": "s", "fields": ["series"]}}],
         "mark": {"type": "line"},
         "encoding": {
           "x": {"field": "t", "type": "quantitative", "scale": {"domain": [0, 300], "nice": false}, "axis": {"values": [0, 100, 200, 300], "title": null}},
           "y": {"field": "v", "type": "quantitative", "scale": {"domain": [0.165, 0.30], "nice": false, "zero": false}, "axis": {"values": [0.2, 0.25, 0.3], "format": ".2f", "title": null}},
           "color": {"field": "series", "type": "nominal", "scale": {"domain": ["Anti-IgM", "BG505-SOSIP.v5.2(7S)", "BG505-SOSIP-T33_dn2A", "BG505-SOSIP-T33_dn10A", "BG505-SOSIP-I53_dn5B"], "range": ["#3b5dab", "#d0504a", "#2b9b5c", "#964ba3", "#eea45a"]},
             "legend": {"title": null, "orient": "none", "legendX": 279, "legendY": 12, "symbolType": "stroke", "symbolSize": 625, "symbolStrokeWidth": 1.7, "labelFont": "Open Sans", "labelFontSize": 19, "labelColor": "black", "rowPadding": 1, "labelOffset": 14, "padding": 0, "labelLimit": 400}}
         }},
        {"data": {"name": "phases"}, "mark": {"type": "rule", "color": "black", "strokeWidth": 1.2, "strokeDash": [8, 6]},
         "encoding": {"x": {"field": "t", "type": "quantitative"}, "y": {"datum": 0.165}, "y2": {"datum": 0.3121}}},
        {"data": {"name": "one"}, "mark": {"type": "rule", "color": "black", "strokeWidth": 1.2, "strokeDash": [8, 6]},
         "encoding": {"x": {"field": "x0", "type": "quantitative"}, "x2": {"field": "x1"}, "y": {"datum": 0.30}}},
        {"data": {"name": "labels"}, "mark": {"type": "text", "font": "Liberation Sans Narrow, Liberation Sans", "fontSize": 10, "color": "black", "baseline": "middle", "dy": -8},
         "encoding": {"x": {"field": "t", "type": "quantitative"}, "y": {"datum": 0.30}, "text": {"field": "label"}}}
      ]
    },
    {
      "width": 234, "height": 156,
      "layer": [
        {"data": {"name": "r2c1"}, "transform": [{"lookup": "s", "from": {"data": {"name": "names2"}, "key": "s", "fields": ["series"]}}],
         "mark": {"type": "line"},
         "encoding": {
           "x": {"field": "t", "type": "quantitative", "scale": {"domain": [0, 300], "nice": false}, "axis": {"values": [0, 100, 200, 300], "title": null}},
           "y": {"field": "v", "type": "quantitative", "scale": {"domain": [0.1955, 0.30], "nice": false, "zero": false}, "axis": {"values": [0.2, 0.25, 0.3], "format": ".2f", "title": "Indo I (Violet/Blue)", "titleX": -60, "titleY": -27, "titleAngle": -90, "titleBaseline": "middle", "titleAlign": "center"}},
           "color": {"field": "series", "type": "nominal", "scale": {"domain": ["Anti-IgM", "BG505-SOSIP.v5.2(7S)", "BG505-SOSIP-T33_dn2", "BG505-SOSIP-T33_dn10", "BG505-SOSIP-I53_dn5"], "range": ["#3b5dab", "#d0504a", "#2b9b5c", "#964ba3", "#eea45a"]}, "legend": null}
         }},
        {"data": {"name": "phases"}, "mark": {"type": "rule", "color": "black", "strokeWidth": 1.2, "strokeDash": [8, 6]},
         "encoding": {"x": {"field": "t", "type": "quantitative"}, "y": {"datum": 0.1955}, "y2": {"datum": 0.3094}}},
        {"data": {"name": "one"}, "mark": {"type": "rule", "color": "black", "strokeWidth": 1.2, "strokeDash": [8, 6]},
         "encoding": {"x": {"field": "x0", "type": "quantitative"}, "x2": {"field": "x1"}, "y": {"datum": 0.30}}},
        {"data": {"name": "labels"}, "mark": {"type": "text", "font": "Liberation Sans Narrow, Liberation Sans", "fontSize": 10, "color": "black", "baseline": "middle", "dy": -8},
         "encoding": {"x": {"field": "t", "type": "quantitative"}, "y": {"datum": 0.30}, "text": {"field": "label"}}}
      ]
    },
    {
      "width": 234, "height": 156,
      "layer": [
        {"data": {"name": "r2c2"}, "transform": [{"lookup": "s", "from": {"data": {"name": "names2"}, "key": "s", "fields": ["series"]}}],
         "mark": {"type": "line"},
         "encoding": {
           "x": {"field": "t", "type": "quantitative", "scale": {"domain": [0, 300], "nice": false}, "axis": {"values": [0, 100, 200, 300], "title": "Time (s)", "titlePadding": 6, "titleFontSize": 24}},
           "y": {"field": "v", "type": "quantitative", "scale": {"domain": [0.19, 0.30], "nice": false, "zero": false}, "axis": {"values": [0.2, 0.25, 0.3], "format": ".2f", "title": null}},
           "color": {"field": "series", "type": "nominal", "scale": {"domain": ["Anti-IgM", "BG505-SOSIP.v5.2(7S)", "BG505-SOSIP-T33_dn2", "BG505-SOSIP-T33_dn10", "BG505-SOSIP-I53_dn5"], "range": ["#3b5dab", "#d0504a", "#2b9b5c", "#964ba3", "#eea45a"]}, "legend": null}
         }},
        {"data": {"name": "phases"}, "mark": {"type": "rule", "color": "black", "strokeWidth": 1.2, "strokeDash": [8, 6]},
         "encoding": {"x": {"field": "t", "type": "quantitative"}, "y": {"datum": 0.19}, "y2": {"datum": 0.3099}}},
        {"data": {"name": "one"}, "mark": {"type": "rule", "color": "black", "strokeWidth": 1.2, "strokeDash": [8, 6]},
         "encoding": {"x": {"field": "x0", "type": "quantitative"}, "x2": {"field": "x1"}, "y": {"datum": 0.30}}},
        {"data": {"name": "labels"}, "mark": {"type": "text", "font": "Liberation Sans Narrow, Liberation Sans", "fontSize": 10, "color": "black", "baseline": "middle", "dy": -8},
         "encoding": {"x": {"field": "t", "type": "quantitative"}, "y": {"datum": 0.30}, "text": {"field": "label"}}}
      ]
    },
    {
      "width": 234, "height": 156,
      "layer": [
        {"data": {"name": "r2c3"}, "transform": [{"lookup": "s", "from": {"data": {"name": "names2"}, "key": "s", "fields": ["series"]}}],
         "mark": {"type": "line"},
         "encoding": {
           "x": {"field": "t", "type": "quantitative", "scale": {"domain": [0, 300], "nice": false}, "axis": {"values": [0, 100, 200, 300], "title": null}},
           "y": {"field": "v", "type": "quantitative", "scale": {"domain": [0.165, 0.30], "nice": false, "zero": false}, "axis": {"values": [0.2, 0.25, 0.3], "format": ".2f", "title": null}},
           "color": {"field": "series", "type": "nominal", "scale": {"domain": ["Anti-IgM", "BG505-SOSIP.v5.2(7S)", "BG505-SOSIP-T33_dn2", "BG505-SOSIP-T33_dn10", "BG505-SOSIP-I53_dn5"], "range": ["#3b5dab", "#d0504a", "#2b9b5c", "#964ba3", "#eea45a"]},
             "legend": {"title": null, "orient": "none", "legendX": 279, "legendY": 8, "symbolType": "stroke", "symbolSize": 625, "symbolStrokeWidth": 1.7, "labelFont": "Open Sans", "labelFontSize": 19, "labelColor": "black", "rowPadding": 1, "labelOffset": 14, "padding": 0, "labelLimit": 400}}
         }},
        {"data": {"name": "phases"}, "mark": {"type": "rule", "color": "black", "strokeWidth": 1.2, "strokeDash": [8, 6]},
         "encoding": {"x": {"field": "t", "type": "quantitative"}, "y": {"datum": 0.165}, "y2": {"datum": 0.3121}}},
        {"data": {"name": "one"}, "mark": {"type": "rule", "color": "black", "strokeWidth": 1.2, "strokeDash": [8, 6]},
         "encoding": {"x": {"field": "x0", "type": "quantitative"}, "x2": {"field": "x1"}, "y": {"datum": 0.30}}},
        {"data": {"name": "labels"}, "mark": {"type": "text", "font": "Liberation Sans Narrow, Liberation Sans", "fontSize": 10, "color": "black", "baseline": "middle", "dy": -8},
         "encoding": {"x": {"field": "t", "type": "quantitative"}, "y": {"datum": 0.30}, "text": {"field": "label"}}}
      ]
    }
  ]
}
